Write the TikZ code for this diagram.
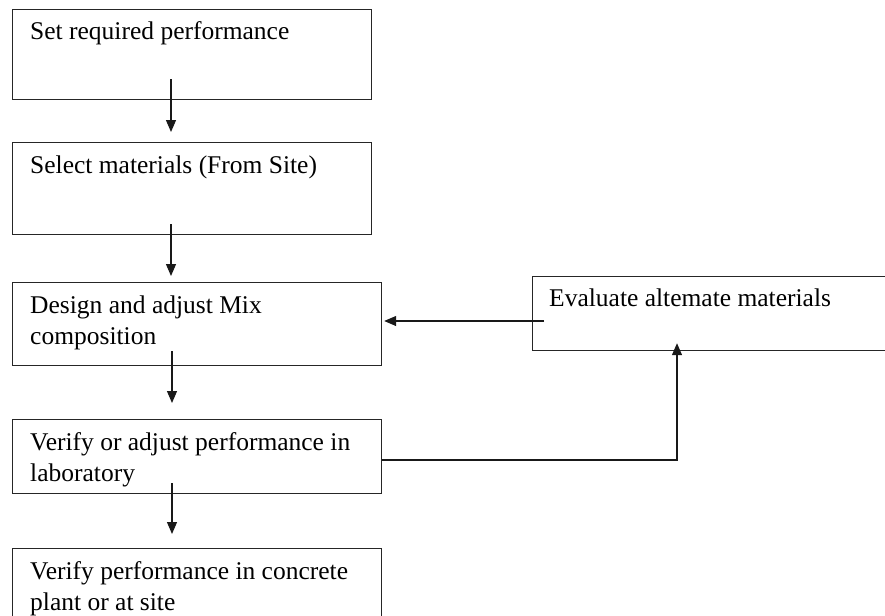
\documentclass[tikz,border=0pt]{standalone}
\usepackage{fontspec}
\setmainfont{Liberation Serif}
\usetikzlibrary{arrows.meta,calc}
\begin{document}
\begin{tikzpicture}[x=1pt,y=-1pt,
  box/.style={draw=black!85,line width=1.2pt,anchor=north west,inner sep=0pt},
  txt/.style={anchor=base west,inner sep=0pt,align=left,font=\fontsize{25.5}{31}\selectfont},
  arr/.style={draw=black!90,line width=1.2pt,-{Triangle[length=12pt,width=10pt]}}]
\clip (0,0) rectangle (885,615);
\fill[white] (0,0) rectangle (885,615);
% boxes
\node[box,minimum width=359pt,minimum height=90pt] (b1) at (12,9) {};
\node[box,minimum width=359pt,minimum height=92pt] (b2) at (12,142) {};
\node[box,minimum width=369pt,minimum height=83pt] (b3) at (12,282) {};
\node[box,minimum width=369pt,minimum height=74pt] (b4) at (12,419) {};
\node[box,minimum width=369pt,minimum height=90pt] (b5) at (12,548) {};
\node[box,minimum width=370pt,minimum height=74pt] (b6) at (532,276) {};
% texts (base anchor = baseline of the last line)
\node[txt] (t1) at ($(b1.north west)+(18,31)$) {Set required performance};
\node[txt] (t2) at ($(b2.north west)+(18,31)$) {Select materials (From Site)};
\node[txt] (t3) at ($(b3.north west)+(18,62)$) {Design and adjust Mix\\composition};
\node[txt] (t4) at ($(b4.north west)+(18,62)$) {Verify or adjust performance in\\laboratory};
\node[txt] (t5) at ($(b5.north west)+(18,62)$) {Verify performance in concrete\\plant or at site};
\node[txt] (t6) at ($(b6.north west)+(17,30)$) {Evaluate altemate materials};
% connectors
\draw[arr] ($(b1.south west)+(159,-21)$) -- ($(b2.north west)+(159,-10)$);
\draw[arr] ($(b2.south west)+(159,-11)$) -- ($(b3.north west)+(159,-6)$);
\draw[arr] ($(b3.south west)+(160,-15)$) -- ($(b4.north west)+(160,-16)$);
\draw[arr] ($(b4.south west)+(160,-11)$) -- ($(b5.north west)+(160,-14)$);
\draw[arr] ($(b6.north west)+(12,45)$) -- ($(b3.north east)+(2,39)$);
\draw[arr] ($(b4.north east)+(0,41)$) -| ($(b6.south west)+(145,-8)$);
\end{tikzpicture}
\end{document}
